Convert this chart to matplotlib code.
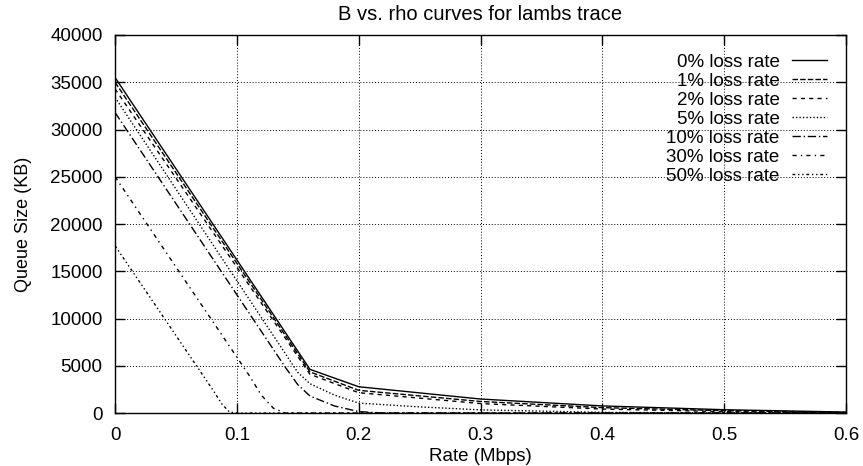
import matplotlib
matplotlib.use("Agg")
import matplotlib.pyplot as plt

plt.rcParams['font.family'] = ['Liberation Sans', 'DejaVu Sans']

# rate (Mbps) / queue size (KB) per loss rate
x_0 = [0.0, 0.16, 0.2, 0.3, 0.4, 0.5, 0.6]
q_0 = [35500, 4620, 2780, 1480, 750, 350, 100]

x_1 = [0.0, 0.16, 0.2, 0.3, 0.4, 0.5, 0.6]
q_1 = [35000, 4350, 2400, 1220, 570, 250, 60]

x_2 = [0.0, 0.16, 0.2, 0.3, 0.4, 0.5, 0.6]
q_2 = [34300, 4100, 2150, 1000, 420, 150, 30]

x_5 = [0.0, 0.15, 0.16, 0.18, 0.2, 0.25, 0.3, 0.4, 0.5, 0.6]
q_5 = [33400, 4300, 3100, 1900, 1050, 650, 330, 70, 0, 0]

x_10 = [0.0, 0.14, 0.15, 0.16, 0.18, 0.2, 0.22, 0.6]
q_10 = [31800, 4800, 3000, 1800, 750, 150, 0, 0]

x_30 = [0.0, 0.11, 0.12, 0.13, 0.14, 0.6]
q_30 = [25000, 4000, 1900, 500, 0, 0]

x_50 = [0.0, 0.08, 0.088, 0.094, 0.1, 0.6]
q_50 = [17700, 2500, 900, 100, 0, 0]

labels = ['0% loss rate', '1% loss rate', '2% loss rate', '5% loss rate',
          '10% loss rate', '30% loss rate', '50% loss rate']
xs = [x_0, x_1, x_2, x_5, x_10, x_30, x_50]
qs = [q_0, q_1, q_2, q_5, q_10, q_30, q_50]
styles = ['-', (0, (4, 1.5)), (0, (3, 3)), (0, (1, 1.5)),
          (0, (6, 2, 1, 2)), (0, (3, 3, 1, 3)), (0, (2, 2, 1, 2, 1, 2))]

fig = plt.figure(figsize=(8.63, 4.66), dpi=100)
ax = fig.add_axes([0.1333, 0.1137, 0.847, 0.8112])

for x, q, ls, lab in zip(xs, qs, styles, labels):
    ax.plot(x, q, color='black', linestyle=ls, linewidth=1.0, label=lab)

ax.set_xlim(0, 0.6)
ax.set_ylim(0, 40000)
ax.set_xticks([0, 0.1, 0.2, 0.3, 0.4, 0.5, 0.6])
ax.set_xticklabels(['0', '0.1', '0.2', '0.3', '0.4', '0.5', '0.6'])
ax.set_yticks(range(0, 40001, 5000))
ax.grid(True, color='black', linestyle=(0, (1, 2)), linewidth=0.7)
ax.set_axisbelow(True)
ax.tick_params(direction='in', length=7, width=1, top=True, right=True,
               labelsize=13.5)
ax.tick_params(axis='x', pad=10)
ax.tick_params(axis='y', pad=9)
for sp in ax.spines.values():
    sp.set_linewidth(1.0)

ax.set_xlabel('Rate (Mbps)', fontsize=13.5, labelpad=3)
ax.set_ylabel('Queue Size (KB)', fontsize=13, labelpad=13)
ax.set_title('B vs. rho curves for lambs trace', fontsize=14.5, pad=11)

leg = ax.legend(loc='upper right', frameon=False, markerfirst=False,
                fontsize=13.5, handlelength=1.9, handletextpad=0.65,
                labelspacing=0.1, borderaxespad=0.6)
for col in leg._legend_handle_box.get_children():
    col.align = 'right'

fig.savefig('out.png', dpi=100)
